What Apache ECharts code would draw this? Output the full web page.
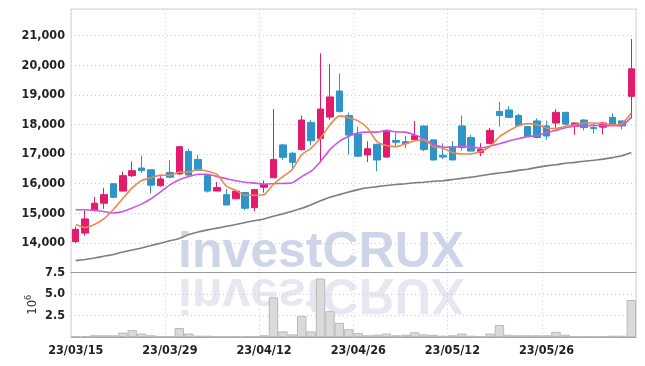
<!DOCTYPE html>
<html>
<head>
<meta charset="utf-8">
<script src="https://cdn.jsdelivr.net/npm/echarts@6/dist/echarts.min.js"></script>
<style>
  html, body { margin: 0; padding: 0; background: #fff; }
  #chart { width: 645px; height: 366px; }
</style>
</head>
<body>
<div id="chart"></div>
<script>
var dates = [
  '23/03/15','23/03/16','23/03/17','23/03/20','23/03/21','23/03/22','23/03/23','23/03/24','23/03/27','23/03/28',
  '23/03/29','23/03/30','23/03/31','23/04/03','23/04/04','23/04/05','23/04/06','23/04/07','23/04/10','23/04/11',
  '23/04/12','23/04/13','23/04/14','23/04/17','23/04/18','23/04/19','23/04/20','23/04/21','23/04/24','23/04/25',
  '23/04/26','23/04/27','23/04/28','23/05/02','23/05/03','23/05/04','23/05/08','23/05/09','23/05/10','23/05/11',
  '23/05/12','23/05/15','23/05/16','23/05/17','23/05/18','23/05/19','23/05/22','23/05/23','23/05/24','23/05/25',
  '23/05/26','23/05/30','23/05/31','23/06/01','23/06/02','23/06/05','23/06/07','23/06/08','23/06/09','23/06/12'
];

var opens = [
  14040,14330,15090,15340,16000,15750,16270,16530,16470,15930,
  16380,16330,17090,16820,16280,15750,15630,15490,15700,15190,
  15880,16200,17310,17030,17150,18070,17530,18250,19130,18300,
  17680,16970,17330,16900,17460,17420,17490,17950,17480,16960,
  17250,17950,17560,17050,17360,18440,18490,18300,17930,18120,
  17950,18050,18410,17930,18150,17900,17910,18240,18120,18950
];
var closes = [
  14460,14810,15340,15630,15540,16270,16440,16440,15950,16160,
  16220,17250,16290,16450,15750,15870,15280,15750,15170,15800,
  15970,16820,16890,16720,18150,17450,18520,18930,18440,17640,
  16930,17180,16800,17770,17400,17350,17620,17150,16800,16900,
  16800,17220,17100,17150,17800,18300,18240,17960,17590,17560,
  17610,18410,18010,18050,17900,17860,18050,17980,17950,19880
];
var lows = [
  14000,14240,15060,15150,15540,15740,16225,16360,15670,15900,
  16190,16300,16270,16450,15700,15750,15280,15490,15100,15070,
  15700,16200,16810,16520,17120,17300,16720,18160,18400,16980,
  16900,16730,16420,16880,17270,17200,17480,17100,16780,16830,
  16800,17120,17100,16930,17330,17930,18220,17960,17590,17530,
  17480,17880,17980,17650,17800,17690,17660,17980,17840,18210
];
var highs = [
  14550,15090,15550,15860,16000,16410,16750,16950,16470,16250,
  16790,17270,17180,16970,16280,16060,15820,15800,15700,15830,
  16110,18520,17350,17080,18300,18150,20400,20050,19730,18400,
  17930,17430,17350,17800,17720,17620,18120,17950,17480,17360,
  17440,18300,17650,17370,17880,18760,18620,18360,17930,18210,
  18130,18520,18410,18060,18180,18040,18090,18380,18130,20890
];

var ma5 = [
  14620,14520,14620,14820,15130,15500,15860,16110,16200,16290,
  16280,16390,16390,16480,16420,16310,15920,15770,15610,15610,
  15630,15980,16240,16480,16980,17200,17540,17990,18290,18230,
  18120,17870,17420,17290,17250,17340,17450,17480,17250,17200,
  17050,17000,17010,17090,17250,17590,17790,17960,18030,17990,
  17880,17860,17940,17990,18050,18050,18030,17990,18030,18390
];
var ma20 = [
  15120,15120,15100,15060,15010,15060,15180,15310,15490,15720,
  15960,16130,16240,16320,16320,16240,16170,16100,16050,16020,
  15990,16000,16010,16030,16240,16420,16750,17150,17430,17600,
  17720,17740,17740,17800,17750,17740,17650,17510,17320,17240,
  17230,17270,17240,17200,17270,17350,17440,17520,17590,17630,
  17720,17800,17890,17940,17960,17970,17960,17960,17970,18240
];
var ma60 = [
  13400,13440,13490,13550,13610,13690,13760,13830,13910,13990,
  14070,14150,14280,14370,14440,14500,14560,14620,14690,14750,
  14810,14900,14980,15070,15170,15290,15420,15540,15630,15720,
  15800,15860,15900,15940,15970,16000,16030,16050,16080,16100,
  16140,16180,16220,16270,16320,16360,16400,16450,16490,16550,
  16600,16640,16690,16720,16760,16790,16830,16880,16940,17050
];

// volume, in millions
var volumes = [
  0.10,0.10,0.20,0.20,0.20,0.50,0.80,0.40,0.20,0.10,
  0.10,1.05,0.40,0.15,0.15,0.10,0.08,0.08,0.08,0.08,
  0.20,4.60,0.65,0.30,2.45,0.65,6.80,3.00,1.65,0.90,
  0.45,0.20,0.27,0.40,0.20,0.27,0.55,0.30,0.25,0.15,
  0.20,0.40,0.15,0.10,0.40,1.40,0.27,0.20,0.20,0.20,
  0.20,0.60,0.27,0.08,0.08,0.08,0.08,0.15,0.15,4.30
];

var candles = opens.map(function (o, i) {
  return [o, closes[i], lows[i], highs[i]];
});

var labelFont = "'DejaVu Sans Condensed', sans-serif";
var gridDots = { show: true, lineStyle: { color: '#c6cadd', type: [1, 3], width: 1 } };

var chart = echarts.init(document.getElementById('chart'));

chart.setOption({
  animation: false,
  backgroundColor: '#fff',
  grid: [
    { left: 71, right: 9, top: 9, height: 263.5, show: true, borderColor: '#d4d4d4', borderWidth: 1 },
    { left: 71, right: 9, top: 272.5, height: 64.5, show: true, borderColor: '#d4d4d4', borderWidth: 1 }
  ],
  graphic: [
    {
      type: 'text', x: 178, y: 278, z: -10, silent: true,
      style: {
        text: 'investCRUX', fill: 'rgba(180,190,220,0.65)',
        font: "bold 50px 'Liberation Sans', sans-serif", verticalAlign: 'bottom'
      }
    },
    {
      type: 'text', x: 178, y: 268, scaleY: -1, z: -10, silent: true,
      style: {
        text: 'investCRUX', fill: 'rgba(200,204,225,0.45)',
        font: "bold 50px 'Liberation Sans', sans-serif", verticalAlign: 'bottom'
      }
    }
  ],
  xAxis: [
    {
      type: 'category', gridIndex: 0, data: dates, boundaryGap: true,
      axisLine: { show: true, lineStyle: { color: '#9a9a9a', width: 1 } },
      axisTick: { show: false },
      axisLabel: { show: false },
      splitLine: { show: true, interval: 9, lineStyle: gridDots.lineStyle }
    },
    {
      type: 'category', gridIndex: 1, data: dates, boundaryGap: true,
      axisLine: { show: true, lineStyle: { color: '#a8a8a8', width: 1 } },
      axisTick: { show: false },
      axisLabel: {
        interval: 9, margin: 7, color: '#222', fontSize: 12.5, fontWeight: 'bold',
        fontFamily: labelFont
      },
      splitLine: { show: true, interval: 9, lineStyle: gridDots.lineStyle }
    }
  ],
  yAxis: [
    {
      type: 'value', gridIndex: 0, min: 13000, max: 21900, interval: 1000,
      axisLine: { show: false }, axisTick: { show: false },
      axisLabel: {
        margin: 6, color: '#222', fontSize: 12.5, fontWeight: 'bold', fontFamily: labelFont,
        showMaxLabel: false,
        formatter: function (v) {
          if (v <= 13000 || v % 1000 !== 0) return '';
          return v.toLocaleString('en-US');
        }
      },
      splitLine: gridDots
    },
    {
      type: 'value', gridIndex: 1, min: 0, max: 7.5, interval: 2.5,
      name: '{n|10}{s|6}', nameLocation: 'middle', nameRotate: 90, nameGap: 30,
      nameMoveOverlap: false,
      nameTextStyle: {
        rich: {
          n: { fontSize: 13, color: '#333', fontFamily: labelFont },
          s: { fontSize: 9, color: '#333', fontFamily: labelFont, verticalAlign: 'top', padding: [0, 0, 8, 0] }
        }
      },
      axisLine: { show: false }, axisTick: { show: false },
      axisLabel: {
        margin: 6, color: '#222', fontSize: 12.5, fontWeight: 'bold', fontFamily: labelFont,
        formatter: function (v) { return v === 0 ? '' : v.toFixed(1); }
      },
      splitLine: gridDots
    }
  ],
  series: [
    {
      type: 'candlestick', xAxisIndex: 0, yAxisIndex: 0, data: candles, barWidth: 7,
      itemStyle: {
        color: '#e31b6d', color0: '#2f95c8',
        borderColor: '#e31b6d', borderColor0: '#2f95c8', borderWidth: 1
      },
      z: 3
    },
    {
      type: 'line', xAxisIndex: 0, yAxisIndex: 0, data: ma60, symbol: 'none', smooth: 0.2,
      lineStyle: { color: '#7d7d7d', width: 1.6 }, z: 2
    },
    {
      type: 'line', xAxisIndex: 0, yAxisIndex: 0, data: ma20, symbol: 'none', smooth: 0.2,
      lineStyle: { color: '#cc55e6', width: 1.6 }, z: 4
    },
    {
      type: 'line', xAxisIndex: 0, yAxisIndex: 0, data: ma5, symbol: 'none', smooth: 0.2,
      lineStyle: { color: '#ee884c', width: 1.6 }, z: 5
    },
    {
      type: 'bar', xAxisIndex: 1, yAxisIndex: 1, data: volumes, barCategoryGap: '0%',
      itemStyle: { color: '#dadada', borderColor: '#b9b9b9', borderWidth: 1 }
    }
  ]
});
</script>
</body>
</html>
